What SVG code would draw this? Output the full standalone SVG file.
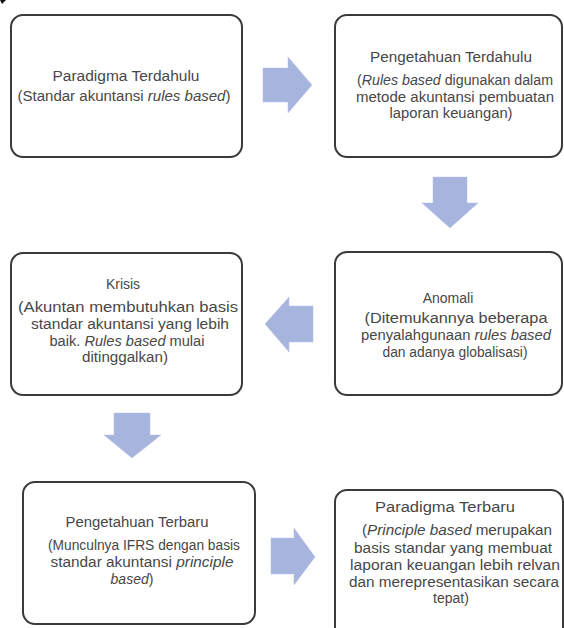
<svg xmlns="http://www.w3.org/2000/svg" width="564" height="628" viewBox="0 0 564 628">
<style>
.box{fill:#ffffff;stroke:#3a3a3a;stroke-width:2}
.arr{fill:#a6b4de;stroke:#b8c3e6;stroke-width:0.5}
text{font-family:"Liberation Sans","Open Sans",sans-serif;font-size:14px;fill:#474747;text-anchor:middle}
.i{font-style:italic}
</style>
<rect width="564" height="628" fill="#ffffff"/>
<polygon points="0,0 6,0 2,4" fill="#111"/>
<g id="connectors">
<polygon class="arr" points="263,68 288,68 288,57 312,85 288,113 288,102 263,102"/>
<polygon class="arr" points="433,177 467,177 467,203 478,203 450,228 422,203 433,203"/>
<polygon class="arr" points="313,306 289,306 289,297 265,324 289,352 289,342 313,342"/>
<polygon class="arr" points="114,413 150,413 150,435 161,435 132,458 104,435 114,435"/>
<polygon class="arr" points="271,538 294,538 294,528 315,557 294,585 294,574 271,574"/>
</g>
<g id="node-paradigma-terdahulu">
<rect class="box" x="11" y="15" width="231" height="142" rx="12"/>
<text x="126" y="81" textLength="147" lengthAdjust="spacingAndGlyphs">Paradigma Terdahulu</text>
<text x="124" y="101" textLength="213" lengthAdjust="spacingAndGlyphs">(Standar akuntansi <tspan class="i">rules based</tspan>)</text>
</g>
<g id="node-pengetahuan-terdahulu">
<rect class="box" x="335" y="15" width="227" height="142" rx="12"/>
<text x="451" y="62" textLength="162" lengthAdjust="spacingAndGlyphs">Pengetahuan Terdahulu</text>
<text x="455" y="85" textLength="196" lengthAdjust="spacingAndGlyphs">(<tspan class="i">Rules based</tspan> digunakan dalam</text>
<text x="455" y="102" textLength="198" lengthAdjust="spacingAndGlyphs">metode akuntansi pembuatan</text>
<text x="451" y="118" textLength="123" lengthAdjust="spacingAndGlyphs">laporan keuangan)</text>
</g>
<g id="node-anomali">
<rect class="box" x="335" y="252" width="227" height="143" rx="12"/>
<text x="448" y="303">Anomali</text>
<text x="456" y="323" textLength="183" lengthAdjust="spacingAndGlyphs">(Ditemukannya beberapa</text>
<text x="456" y="340" textLength="190" lengthAdjust="spacingAndGlyphs">penyalahgunaan <tspan class="i">rules based</tspan></text>
<text x="455" y="357" textLength="145" lengthAdjust="spacingAndGlyphs">dan adanya globalisasi)</text>
</g>
<g id="node-krisis">
<rect class="box" x="11" y="253" width="231" height="142" rx="12"/>
<text x="123" y="289">Krisis</text>
<text x="128" y="312" textLength="220" lengthAdjust="spacingAndGlyphs">(Akuntan membutuhkan basis</text>
<text x="130" y="329" textLength="198" lengthAdjust="spacingAndGlyphs">standar akuntansi yang lebih</text>
<text x="127" y="346" textLength="155" lengthAdjust="spacingAndGlyphs">baik. <tspan class="i">Rules based</tspan> mulai</text>
<text x="125" y="362" textLength="86" lengthAdjust="spacingAndGlyphs">ditinggalkan)</text>
</g>
<g id="node-pengetahuan-terbaru">
<rect class="box" x="23" y="482" width="232" height="142" rx="12"/>
<text x="137" y="527" textLength="143" lengthAdjust="spacingAndGlyphs">Pengetahuan Terbaru</text>
<text x="144" y="550" textLength="192" lengthAdjust="spacingAndGlyphs">(Munculnya IFRS dengan basis</text>
<text x="142" y="567" textLength="183" lengthAdjust="spacingAndGlyphs">standar akuntansi <tspan class="i">principle</tspan></text>
<text x="132" y="584"><tspan class="i">based</tspan>)</text>
</g>
<g id="node-paradigma-terbaru">
<rect class="box" x="335" y="490" width="228" height="150" rx="12"/>
<text x="445" y="512" textLength="140" lengthAdjust="spacingAndGlyphs">Paradigma Terbaru</text>
<text x="457" y="535" textLength="190" lengthAdjust="spacingAndGlyphs">(<tspan class="i">Principle based</tspan> merupakan</text>
<text x="453" y="553" textLength="198" lengthAdjust="spacingAndGlyphs">basis standar yang membuat</text>
<text x="455" y="570" textLength="210" lengthAdjust="spacingAndGlyphs">laporan keuangan lebih relvan</text>
<text x="454" y="587" textLength="210" lengthAdjust="spacingAndGlyphs">dan merepresentasikan secara</text>
<text x="451" y="603">tepat)</text>
</g>
</svg>
